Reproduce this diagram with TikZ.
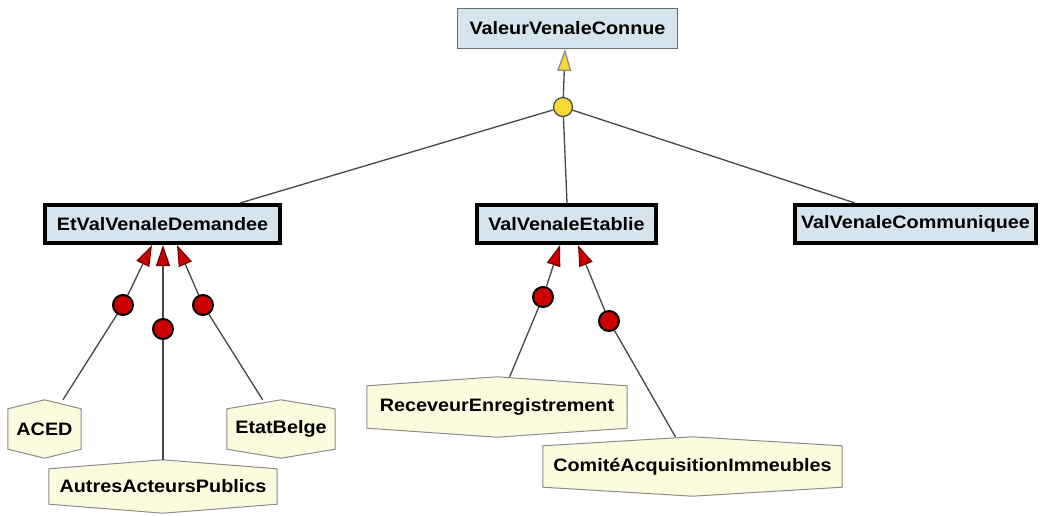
\documentclass[tikz,border=0pt]{standalone}
\usepackage{fontspec}
\setmainfont{Liberation Sans}
\newfontfamily\lblfont[FakeStretch=1.1]{Liberation Sans}
\usetikzlibrary{arrows.meta,backgrounds}

\definecolor{boxblue}{RGB}{214,228,238}
\definecolor{boxedge}{RGB}{110,110,110}
\definecolor{hexfill}{RGB}{252,251,222}
\definecolor{hexedge}{RGB}{140,140,140}
\definecolor{linegray}{RGB}{70,70,70}
\definecolor{junctionyellow}{RGB}{247,216,52}
\definecolor{rolered}{RGB}{204,0,0}
\definecolor{roleedge}{RGB}{120,0,0}

\begin{document}
\begin{tikzpicture}[x=1pt,y=-1pt,
  every node/.style={font=\lblfont\bfseries\fontsize{18}{20}\selectfont, inner sep=0pt},
  classbox/.style={rectangle, fill=boxblue, draw=boxedge, line width=1pt},
  keybox/.style={rectangle, fill=boxblue, draw=black, line width=4pt},
  actor/.style={rectangle},
  hexpath/.style={fill=hexfill, draw=hexedge, line width=1pt},
  link/.style={draw=linegray, line width=1.3pt},
  junction/.style={circle, fill=junctionyellow, draw=linegray, line width=1.2pt, minimum size=19pt},
  role/.style={circle, fill=rolered, draw=black, line width=2pt, minimum size=20pt},
  isa/.style={link, -{Triangle[length=22pt, width=14pt, color=hexedge, fill=junctionyellow]}},
  plays/.style={link, -{Triangle[length=21pt, width=14pt, color=roleedge, fill=rolered]}}
]
\useasboundingbox (0,0) rectangle (1040,515);

% class boxes
\node[classbox, minimum width=220, minimum height=40] (vvc) at (567.5,28.5) {ValeurVenaleConnue};
\node[keybox, minimum width=235, minimum height=38] (etvvd) at (162.5,224) {EtValVenaleDemandee};
\node[keybox, minimum width=179, minimum height=38] (vve) at (566.5,224) {ValVenaleEtablie};
\node[keybox, minimum width=241, minimum height=38] (vvcom) at (915.5,224) {ValVenaleCommuniquee};

% actors (hexagons drawn on the background layer)
\node[actor, minimum width=73, minimum height=58] (aced) at (44.5,429) {ACED};
\node[actor, minimum width=228, minimum height=53] (autres) at (163,486.5) {AutresActeursPublics};
\node[actor, minimum width=108, minimum height=58] (etat) at (281,429) {EtatBelge};
\node[actor, minimum width=260, minimum height=60] (receveur) at (497,407) {ReceveurEnregistrement};
\node[actor, minimum width=299, minimum height=59] (comite) at (692.5,466.5) {ComitéAcquisitionImmeubles};

\begin{scope}[on background layer]
  \foreach \n in {aced,autres,etat,receveur,comite}{
    \path[hexpath] ([yshift=-9pt]\n.north west) -- (\n.north) -- ([yshift=-9pt]\n.north east)
      -- ([yshift=9pt]\n.south east) -- (\n.south) -- ([yshift=9pt]\n.south west) -- cycle;
  }
\end{scope}

% generalisation junction
\node[junction] (j) at (563,107) {};
\draw[link] (j) -- ([xshift=77.5pt]etvvd.north);
\draw[link] (j) -- ([xshift=0.5pt]vve.north);
\draw[link] (j) -- ([xshift=-60.5pt]vvcom.north);
\draw[isa] (j) -- ([xshift=-2.5pt]vvc.south);

% role markers
\node[role] (r1) at (123,305) {};
\node[role] (r2) at (163,329) {};
\node[role] (r3) at (203,305) {};
\node[role] (r4) at (543,297) {};
\node[role] (r5) at (609,321) {};

\begin{scope}[on background layer]
  \draw[link] (aced) -- (r1);
  \draw[link] (autres.north) -- (r2);
  \draw[link] (etat) -- (r3);
  \draw[link] (receveur) -- (r4);
  \draw[link] (comite) -- (r5);
\end{scope}

\draw[plays] (r1) -- ([xshift=-10.5pt]etvvd.south);
\draw[plays] (r2) -- ([xshift=0.5pt]etvvd.south);
\draw[plays] (r3) -- ([xshift=14.5pt]etvvd.south);
\draw[plays] (r4) -- ([xshift=-6.5pt]vve.south);
\draw[plays] (r5) -- ([xshift=11.5pt]vve.south);
\end{tikzpicture}
\end{document}
